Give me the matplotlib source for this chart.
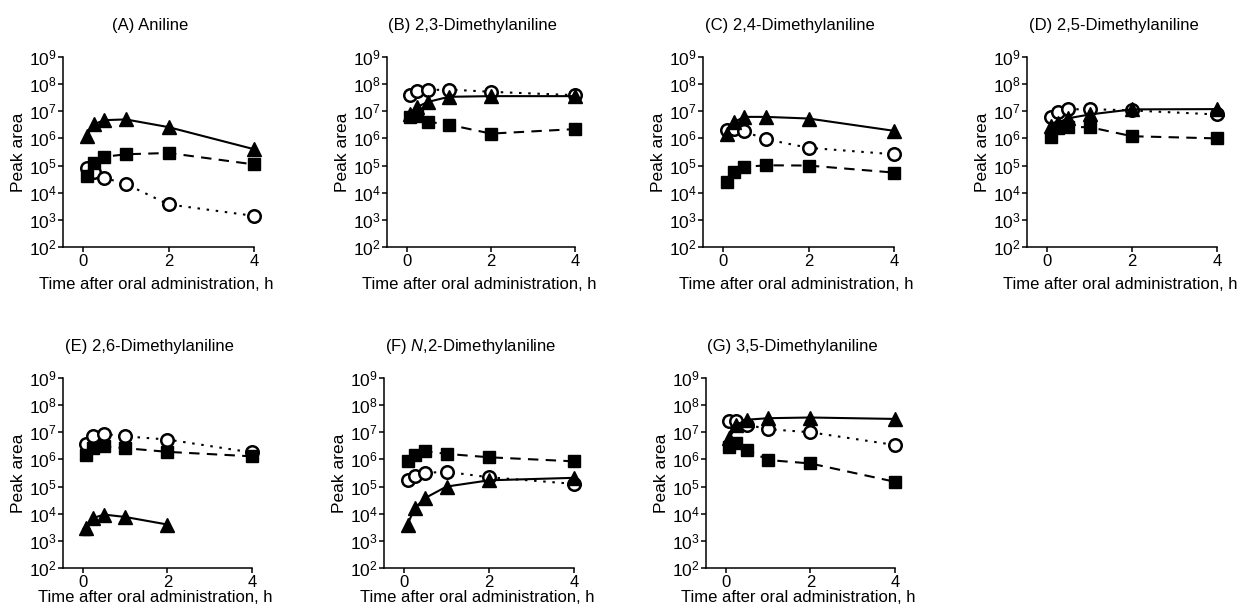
import numpy as np
import matplotlib
matplotlib.use('Agg')
import matplotlib.pyplot as plt

plt.rcParams['font.family'] = ['Liberation Sans', 'DejaVu Sans']
plt.rcParams['mathtext.fontset'] = 'custom'
plt.rcParams['mathtext.rm'] = 'Liberation Sans'
plt.rcParams['mathtext.it'] = 'Liberation Sans:italic'

# sampling times after dosing (h)
tiempo = [0.083, 0.25, 0.5, 1, 2, 4]

titulos = ['(A) Aniline', '(B) 2,3-Dimethylaniline', '(C) 2,4-Dimethylaniline',
           '(D) 2,5-Dimethylaniline', '(E) 2,6-Dimethylaniline',
           '(F) $\\mathit{N}$,2-Dimethylaniline', '(G) 3,5-Dimethylaniline']

# peak areas, one list per compound (triangle / square / circle series)
triangulo = [
    [1.2e6, 3.3e6, 4.7e6, 5.0e6, 2.6e6, 4.0e5],
    [8.0e6, 1.45e7, 2.2e7, 3.4e7, 3.6e7, 3.6e7],
    [1.5e6, 4.0e6, 6.2e6, 6.2e6, 5.4e6, 1.9e6],
    [2.9e6, 3.8e6, 5.5e6, 7.6e6, 1.17e7, 1.2e7],
    [3.0e3, 7.0e3, 9.3e3, 7.6e3, 4.0e3, None],
    [4.0e3, 1.6e4, 3.8e4, 1.0e5, 1.7e5, 2.1e5],
    [6.0e6, 1.9e7, 2.9e7, 3.3e7, 3.5e7, 3.1e7],
]
cuadrado = [
    [4.2e4, 1.2e5, 2.1e5, 2.6e5, 2.9e5, 1.1e5],
    [6.2e6, 6.8e6, 4.1e6, 3.2e6, 1.5e6, 2.2e6],
    [2.5e4, 5.8e4, 8.9e4, 1.02e5, 1.0e5, 5.5e4],
    [1.1e6, 2.5e6, 2.6e6, 2.6e6, 1.2e6, 1.0e6],
    [1.4e6, 2.6e6, 3.0e6, 2.6e6, 1.9e6, 1.3e6],
    [8.5e5, 1.5e6, 2.0e6, 1.6e6, 1.2e6, 8.5e5],
    [2.8e6, 3.9e6, 2.3e6, 9.5e5, 7.1e5, 1.5e5],
]
circulo = [
    [8.0e4, 6.0e4, 3.5e4, 2.1e4, 3.7e3, 1.4e3],
    [3.9e7, 5.5e7, 6.0e7, 6.3e7, 5.2e7, 3.9e7],
    [2.1e6, 2.3e6, 1.8e6, 9.3e5, 4.5e5, 2.6e5],
    [6.3e6, 9.6e6, 1.17e7, 1.2e7, 1.07e7, 7.6e6],
    [3.7e6, 7.1e6, 8.7e6, 7.1e6, 5.4e6, 1.8e6],
    [1.8e5, 2.4e5, 3.2e5, 3.5e5, 2.2e5, 1.26e5],
    [2.7e7, 2.5e7, 1.9e7, 1.3e7, 1.0e7, 3.4e6],
]
# lower SD visible below a marker: (panel, series, time index, lower bound)
barras_error = [(4, 'tri', 0, 1.6e3), (6, 'cir', 5, 2.1e6)]

# axes boxes in figure fraction (left, bottom, width, height)
posiciones = [
    (0.0507, 0.5984, 0.1538, 0.309),
    (0.3116, 0.5984, 0.1514, 0.309),
    (0.5660, 0.5984, 0.1538, 0.309),
    (0.8269, 0.5984, 0.1530, 0.309),
    (0.0507, 0.0764, 0.1522, 0.309),
    (0.3092, 0.0764, 0.1530, 0.309),
    (0.5684, 0.0764, 0.1522, 0.309),
]

fig = plt.figure(figsize=(12.42, 6.15), dpi=100)

for i in range(7):
    ax = fig.add_axes(posiciones[i])
    ax.set_yscale('log')

    t = np.array(tiempo)
    tri = np.array([np.nan if v is None else v for v in triangulo[i]], dtype=float)
    ok = ~np.isnan(tri)

    ax.plot(t, circulo[i], linestyle=(0, (1.2, 3.2)), color='black', lw=1.5,
            marker='o', ms=9, mfc='white', mec='black', mew=1.8, clip_on=False, zorder=3)
    ax.plot(t[ok], tri[ok], linestyle='-', color='black', lw=1.5,
            marker='^', ms=9.5, mfc='black', mec='black', clip_on=False, zorder=4)
    ax.plot(t, cuadrado[i], linestyle=(0, (5, 3.5)), color='black', lw=1.5,
            marker='s', ms=8.5, mfc='black', mec='black', clip_on=False, zorder=5)

    for panel, serie, k, bajo in barras_error:
        if panel != i:
            continue
        datos = {'tri': tri, 'cir': circulo[i], 'cua': cuadrado[i]}[serie]
        ax.errorbar([tiempo[k]], [datos[k]], yerr=[[datos[k] - bajo], [0]],
                    fmt='none', ecolor='black', elinewidth=1, capsize=3, zorder=2)

    ax.set_xlim(-0.47, 4.0)
    ax.set_ylim(1e2, 1e9)
    ax.set_xticks([0, 2, 4])
    ax.set_xticklabels(['0', '2', '4'], fontsize=12)
    ax.set_yticks([10.0 ** e for e in range(2, 10)])
    ax.set_yticklabels(['$\\mathregular{10^{%d}}$' % e for e in range(2, 10)], fontsize=12.5)
    ax.yaxis.set_minor_locator(matplotlib.ticker.NullLocator())
    ax.tick_params(direction='out', length=3.5, width=1.1, colors='black')
    ax.tick_params(axis='y', pad=1)
    ax.tick_params(axis='x', pad=1.5)

    for lado in ['top', 'right']:
        ax.spines[lado].set_visible(False)
    for lado in ['left', 'bottom']:
        ax.spines[lado].set_linewidth(1.1)

    ax.text(0.455, 1.168, titulos[i], transform=ax.transAxes,
            ha='center', va='center', fontsize=12)
    ax.text(-0.235, 0.5, 'Peak area', transform=ax.transAxes, rotation=90,
            ha='center', va='center', fontsize=12.5)
    y_xlabel = -0.20 if i < 4 else -0.153
    ax.text(0.49, y_xlabel, 'Time after oral administration, h', transform=ax.transAxes,
            ha='center', va='center', fontsize=12)

fig.savefig('out.png', dpi=100)
